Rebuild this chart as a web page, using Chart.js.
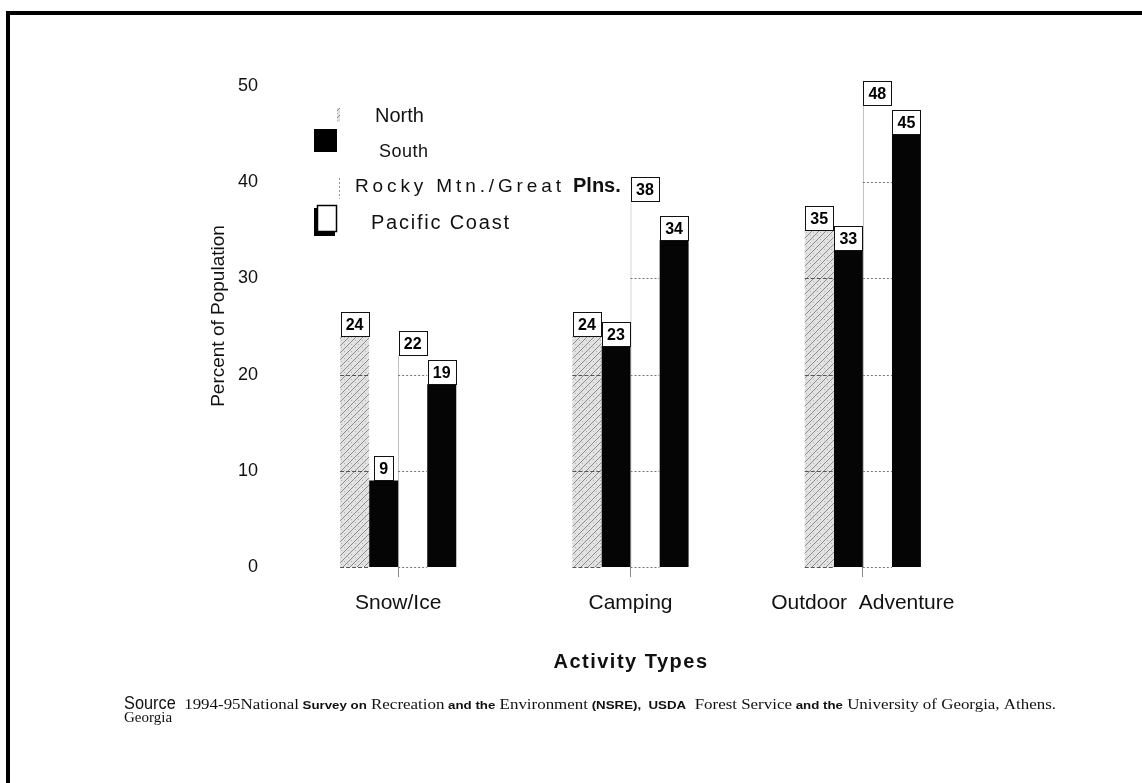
<!DOCTYPE html>
<html>
<head>
<meta charset="utf-8">
<title>Activity Types by Region</title>
<script src="https://cdn.jsdelivr.net/npm/chart.js@4.4.1/dist/chart.umd.min.js"></script>
<style>
    html, body { margin: 0; padding: 0; background: #fff; }
    #wrap { width: 1142px; height: 783px; }
</style>
</head>
<body>
<div id="wrap"><canvas id="regionChart" width="1142" height="783"></canvas></div>
<script>
// Data
const categories = ['Snow/Ice', 'Camping', 'Outdoor  Adventure'];
const regions = ['North', 'South', 'Rocky Mtn./Great Plns.', 'Pacific Coast'];
const north = [24, 24, 35];
const south = [9, 23, 33];
const rocky = [22, 38, 48];
const pacific = [19, 34, 45];
const yTicks = [0, 10, 20, 30, 40, 50];

// Hatched grey fill used for the North bars
function makeHatch() {
    const c = document.createElement('canvas');
    c.width = 7;
    c.height = 7;
    const g = c.getContext('2d');
    g.fillStyle = '#e2e2e2';
    g.fillRect(0, 0, 7, 7);
    g.strokeStyle = '#8d8d8d';
    g.lineWidth = 1;
    g.beginPath();
    g.moveTo(0, 7);
    g.lineTo(7, 0);
    g.stroke();
    g.fillStyle = '#b5b5b5';
    g.fillRect(1, 1, 1, 1);
    g.fillRect(5, 4, 1, 1);
    return g.createPattern(c, 'repeat');
}

function spacedText(ctx, text, x, y, font, spacing) {
    ctx.save();
    ctx.font = font;
    ctx.letterSpacing = spacing + 'px';
    ctx.fillText(text, x, y);
    ctx.restore();
}

// spacing needed so that text fills a given width
function fitSpacing(ctx, text, font, width) {
    ctx.save();
    ctx.font = font;
    const w = ctx.measureText(text).width;
    ctx.restore();
    return Math.max(0, (width - w) / (text.length - 1));
}

const SANS = 'Arial, "Liberation Sans", sans-serif';

// Frame, legend, axis titles and source note
const decorations = {
    id: 'decorations',
    beforeDraw(chart) {
        const ctx = chart.ctx;
        ctx.save();
        ctx.fillStyle = '#fff';
        ctx.fillRect(0, 0, chart.width, chart.height);
        ctx.restore();
    },
    afterDraw(chart) {
        const ctx = chart.ctx;
        ctx.save();

        // page frame (top and left edges only)
        ctx.fillStyle = '#000';
        ctx.fillRect(6, 11, chart.width - 6, 4);
        ctx.fillRect(6, 11, 4, chart.height - 11);

        // legend markers
        ctx.fillStyle = hatch;
        ctx.fillRect(337, 108, 3, 14);
        ctx.fillStyle = '#000';
        ctx.fillRect(314, 129, 23, 23);
        ctx.strokeStyle = '#999';
        ctx.setLineDash([2, 2]);
        ctx.beginPath();
        ctx.moveTo(339.5, 178);
        ctx.lineTo(339.5, 199);
        ctx.stroke();
        ctx.setLineDash([]);
        ctx.fillStyle = '#000';
        ctx.fillRect(314, 208, 21, 28);
        ctx.fillStyle = '#fff';
        ctx.fillRect(317.5, 205.5, 19, 26);
        ctx.strokeStyle = '#000';
        ctx.lineWidth = 1.5;
        ctx.strokeRect(317.5, 205.5, 19, 26);

        // legend labels
        ctx.fillStyle = '#111';
        ctx.textBaseline = 'alphabetic';
        ctx.textAlign = 'left';
        spacedText(ctx, regions[0], 375, 122, '20px ' + SANS, 0);
        spacedText(ctx, regions[1], 379, 157, '18px ' + SANS, 0.5);
        const rf = '19px ' + SANS;
        const first = 'Rocky Mtn./Great';
        spacedText(ctx, first, 355, 192, rf, fitSpacing(ctx, first, rf, 206));
        spacedText(ctx, 'Plns.', 573, 192, 'bold 20px ' + SANS, 0);
        const pf = '20px ' + SANS;
        spacedText(ctx, regions[3], 371, 229, pf, fitSpacing(ctx, regions[3], pf, 138));

        // y axis title
        ctx.save();
        ctx.translate(224, 316);
        ctx.rotate(-Math.PI / 2);
        ctx.textAlign = 'center';
        ctx.font = '19px ' + SANS;
        ctx.fillText('Percent of Population', 0, 0);
        ctx.restore();

        // x axis title
        ctx.textAlign = 'center';
        spacedText(ctx, 'Activity Types', 631, 668, 'bold 20px ' + SANS, 1.5);

        // source note, mixed fonts like the scan
        ctx.textAlign = 'left';
        const serif = '14px "Liberation Serif", "Times New Roman", serif';
        const sansB = 'bold 11px ' + SANS;
        const parts = [
            ['Source', '18px "Liberation Sans Narrow", "Arial Narrow", Arial, sans-serif', 0.75],
            ['  1994-95National', serif, 1],
            [' Survey on', sansB, 1],
            [' Recreation', serif, 1],
            [' and the', sansB, 1],
            [' Environment', serif, 1],
            [' (NSRE),  USDA', sansB, 1],
            ['  Forest Service', serif, 1],
            [' and the', sansB, 1],
            [' University of Georgia, Athens.', serif, 1]
        ];
        let total = 0;
        parts.forEach(p => { ctx.font = p[1]; total += ctx.measureText(p[0]).width * p[2]; });
        const k = 932 / total;
        ctx.save();
        ctx.translate(124, 709);
        ctx.scale(k, 1);
        let px = 0;
        parts.forEach(p => {
            ctx.font = p[1];
            ctx.save();
            ctx.translate(px, 0);
            ctx.scale(p[2], 1);
            ctx.fillText(p[0], 0, 0);
            ctx.restore();
            px += ctx.measureText(p[0]).width * p[2];
        });
        ctx.restore();
        ctx.font = '15px "Liberation Serif", "Times New Roman", serif';
        ctx.fillText('Georgia', 124, 722);

        ctx.restore();
    }
};

// dotted grid seen through the light bars, and the boxed value labels
const barExtras = {
    id: 'barExtras',
    afterDatasetsDraw(chart) {
        const ctx = chart.ctx;
        const yScale = chart.scales.y;
        ctx.save();
        [0, 2].forEach(di => {
            const meta = chart.getDatasetMeta(di);
            const vals = chart.data.datasets[di].data;
            meta.data.forEach((bar, i) => {
                const half = bar.width / 2;
                yTicks.forEach(t => {
                    if (t >= vals[i]) return;
                    const y = Math.round(yScale.getPixelForValue(t)) + 0.5;
                    ctx.strokeStyle = di === 0 ? '#555' : '#777';
                    ctx.lineWidth = 1;
                    ctx.setLineDash(di === 0 ? [4, 2] : [2, 2]);
                    ctx.beginPath();
                    ctx.moveTo(bar.x - half, y);
                    ctx.lineTo(bar.x + half, y);
                    ctx.stroke();
                });
            });
        });
        ctx.setLineDash([]);

        ctx.font = 'bold 16px ' + SANS;
        ctx.textAlign = 'center';
        ctx.textBaseline = 'middle';
        chart.data.datasets.forEach((ds, di) => {
            const meta = chart.getDatasetMeta(di);
            meta.data.forEach((bar, i) => {
                const txt = String(ds.data[i]);
                const w = Math.round(ctx.measureText(txt).width + 10);
                const h = 24;
                const x = Math.round(bar.x - w / 2) + 0.5;
                const y = Math.round(bar.y - h) + 0.5;
                ctx.fillStyle = '#fff';
                ctx.fillRect(x, y, w, h);
                ctx.strokeStyle = '#111';
                ctx.lineWidth = 1;
                ctx.strokeRect(x, y, w, h);
                ctx.fillStyle = '#000';
                ctx.fillText(txt, bar.x, y + h / 2 + 1);
            });
        });
        ctx.restore();
    }
};

const hatch = makeHatch();

new Chart(document.getElementById('regionChart'), {
    type: 'bar',
    data: {
        labels: categories,
        datasets: [
            { label: regions[0], data: north, backgroundColor: hatch, borderWidth: 0 },
            { label: regions[1], data: south, backgroundColor: '#050505', borderWidth: 0 },
            {
                label: regions[2], data: rocky, backgroundColor: '#fff',
                borderColor: '#aaa', borderWidth: { left: 1, top: 0, right: 0, bottom: 0 }
            },
            { label: regions[3], data: pacific, backgroundColor: '#050505', borderWidth: 0 }
        ]
    },
    options: {
        responsive: false,
        animation: false,
        devicePixelRatio: 1,
        layout: { padding: { left: 200, right: 163, top: 86, bottom: 0 } },
        datasets: { bar: { barPercentage: 1, categoryPercentage: 0.5 } },
        plugins: {
            legend: { display: false },
            tooltip: { enabled: false }
        },
        scales: {
            x: {
                grid: {
                    display: true, drawOnChartArea: false, drawTicks: true,
                    tickLength: 10, offset: false, color: '#888'
                },
                border: { display: false },
                ticks: {
                    color: '#111', padding: 14,
                    font: { family: SANS, size: 21 }
                },
                afterFit(scale) { scale.height = 216; }
            },
            y: {
                min: 0,
                max: 50,
                grid: { display: false, drawTicks: false },
                border: { display: false },
                ticks: {
                    stepSize: 10, color: '#111', padding: 24,
                    font: { family: SANS, size: 18 }
                },
                afterFit(scale) { scale.width = 82; }
            }
        }
    },
    plugins: [decorations, barExtras]
});
</script>
</body>
</html>
